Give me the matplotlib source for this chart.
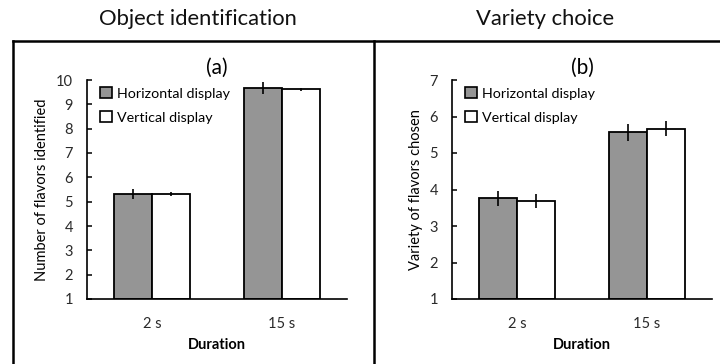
import matplotlib
matplotlib.use("Agg")
import matplotlib.pyplot as plt
from matplotlib.lines import Line2D
from matplotlib.patches import Patch
import numpy as np

plt.rcParams['font.family'] = ['Lato', 'DejaVu Sans']

durations = ["2 s", "15 s"]
series = ["Horizontal display", "Vertical display"]

a_horizontal = [5.31, 9.66]
a_horizontal_err = [0.20, 0.24]
a_vertical = [5.31, 9.62]
a_vertical_err = [0.07, 0.07]

b_horizontal = [3.76, 5.57]
b_horizontal_err = [0.20, 0.23]
b_vertical = [3.68, 5.67]
b_vertical_err = [0.19, 0.21]

a_ticks = [1, 2, 3, 4, 5, 6, 7, 8, 9, 10]
b_ticks = [1, 2, 3, 4, 5, 6, 7]

fig = plt.figure(figsize=(7.2, 3.64), dpi=100)
W, H = 720, 364

def ax_rect(x0, x1, ytop, ybot):
    return [x0 / W, 1 - ybot / H, (x1 - x0) / W, (ybot - ytop) / H]

ax_a = fig.add_axes(ax_rect(87, 347, 80, 299))
ax_b = fig.add_axes(ax_rect(452, 712, 80, 299))

colors = ["#959595", "#ffffff"]
bw = 0.29

def draw(ax, h, he, v, ve, ticks, ylabel, panel):
    x = np.arange(len(durations))
    vals = [(h, he), (v, ve)]
    for i, (vv, ee) in enumerate(vals):
        pos = x + (i - 0.5) * bw
        ax.bar(pos, np.array(vv) - ticks[0], bottom=ticks[0], width=bw,
               color=colors[i], edgecolor="black", linewidth=1.3, zorder=2)
        ax.errorbar(pos, vv, yerr=ee, fmt="none", ecolor="black",
                    elinewidth=1.2, capsize=0, zorder=3)
    ax.set_xlim(-0.5, 1.5)
    ax.set_ylim(ticks[0], ticks[-1])
    ax.set_yticks(ticks)
    ax.set_xticks(x)
    ax.set_xticklabels(durations)
    ax.tick_params(axis="x", length=0, pad=13, labelsize=10.5)
    ax.tick_params(axis="y", direction="in", length=3.5, width=1.1,
                   labelsize=10.5, pad=10, color="black")
    for lab in ax.get_yticklabels() + ax.get_xticklabels():
        lab.set_color("#2a2a2a")
    for s in ["top", "right"]:
        ax.spines[s].set_visible(False)
    for s in ["left", "bottom"]:
        ax.spines[s].set_linewidth(1.2)
    ax.set_xlabel("Duration", fontweight="bold", fontsize=10.5, labelpad=5)
    ax.set_ylabel(ylabel, fontsize=10.5, labelpad=5)
    ax.text(0.5, 1.012, panel, transform=ax.transAxes, ha="center",
            va="bottom", fontsize=15)
    handles = [Patch(facecolor=colors[i], edgecolor="black", linewidth=1.2,
                     label=series[i]) for i in range(2)]
    ax.legend(handles=handles, loc="upper left", bbox_to_anchor=(0.018, 1.005),
              frameon=False, fontsize=10.3, handlelength=0.8, handleheight=0.8,
              handletextpad=0.35, labelspacing=0.8, borderaxespad=0.2)

draw(ax_a, a_horizontal, a_horizontal_err, a_vertical, a_vertical_err,
     a_ticks, "Number of flavors identified", "(a)")
draw(ax_b, b_horizontal, b_horizontal_err, b_vertical, b_vertical_err,
     b_ticks, "Variety of flavors chosen", "(b)")

fig.text(198 / W, 1 - 19 / H, "Object identification", ha="center",
         va="center", fontsize=15.8, color="#111111")
fig.text(545 / W, 1 - 19 / H, "Variety choice", ha="center",
         va="center", fontsize=15.8, color="#111111")

# frame lines
def fl(x0, y0, x1, y1):
    fig.add_artist(Line2D([x0 / W, x1 / W], [1 - y0 / H, 1 - y1 / H],
                          color="black", linewidth=1.8))
fl(13, 41, 720, 41)
fl(13, 41, 13, 364)
fl(373.5, 41, 373.5, 364)

fig.savefig("out.png", dpi=100)
